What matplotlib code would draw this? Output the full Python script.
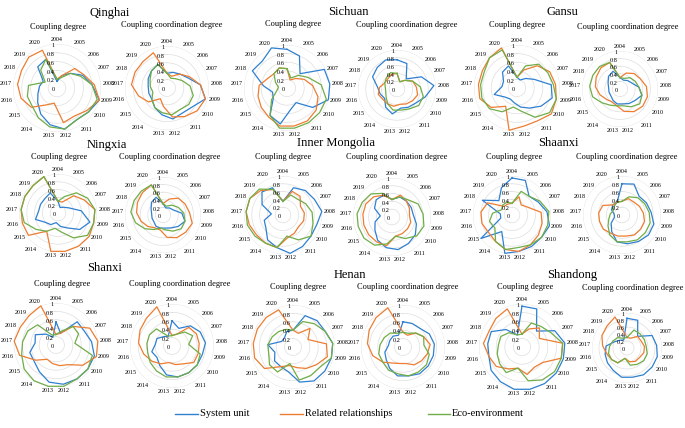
import numpy as np
import matplotlib
matplotlib.use("Agg")
import matplotlib.pyplot as plt

plt.rcParams['font.family'] = ['Liberation Serif', 'DejaVu Serif']

years = [str(y) for y in range(2004, 2021)]
series_names = ["System unit", "Related relationships", "Eco-environment"]
colors = ["#2f80d1", "#ed7d31", "#70ad47"]

# values per chart: [system unit, related relationships, eco-environment]
qinghai_cd = [
    [0.15, 0.3, 0.45, 0.65, 0.8, 1.0, 0.9, 0.85, 0.95, 0.85, 0.7, 0.55, 0.45, 0.4, 0.35, 0.65, 0.7],
    [0.2, 0.3, 0.6, 0.68, 0.85, 1.0, 0.85, 0.75, 0.8, 0.35, 0.45, 0.73, 0.85, 0.9, 0.9, 0.95, 0.92],
    [0.2, 0.25, 0.45, 0.6, 0.8, 0.95, 0.9, 0.85, 0.95, 0.9, 0.8, 0.7, 0.7, 0.65, 0.3, 0.55, 0.7],
]
qinghai_ccd = [
    [0.35, 0.4, 0.45, 0.55, 0.8, 0.95, 0.75, 0.7, 0.75, 0.65, 0.55, 0.45, 0.45, 0.45, 0.5, 0.55, 0.6],
    [0.35, 0.3, 0.45, 0.6, 0.8, 0.95, 0.9, 0.8, 0.7, 0.45, 0.3, 0.55, 0.7, 0.85, 0.85, 0.85, 0.9],
    [0.35, 0.25, 0.3, 0.4, 0.55, 0.65, 0.65, 0.6, 0.65, 0.6, 0.55, 0.45, 0.35, 0.4, 0.45, 0.55, 0.6],
]
sichuan_cd = [
    [0.9, 0.8, 0.45, 0.97, 1.0, 1.0, 0.75, 0.4, 0.5, 0.85, 0.75, 0.4, 0.35, 0.55, 0.9, 0.85, 1.0],
    [0.45, 0.2, 0.3, 0.45, 0.6, 0.75, 0.85, 0.9, 0.9, 0.9, 0.8, 0.75, 0.7, 0.65, 0.5, 0.45, 0.5],
    [0.45, 0.25, 0.4, 0.55, 0.8, 0.95, 0.95, 0.95, 0.95, 0.95, 0.75, 0.45, 0.25, 0.2, 0.3, 0.45, 0.5],
]
sichuan_ccd = [
    [0.75, 0.7, 0.35, 0.7, 0.95, 0.75, 0.6, 0.55, 0.5, 0.65, 0.55, 0.4, 0.45, 0.5, 0.7, 0.75, 0.8],
    [0.4, 0.2, 0.3, 0.45, 0.5, 0.55, 0.5, 0.45, 0.4, 0.45, 0.45, 0.45, 0.5, 0.45, 0.35, 0.35, 0.4],
    [0.4, 0.2, 0.3, 0.45, 0.6, 0.7, 0.7, 0.6, 0.55, 0.55, 0.45, 0.35, 0.3, 0.3, 0.35, 0.4, 0.45],
]
gansu_cd = [
    [0.25, 0.2, 0.3, 0.45, 0.8, 0.85, 0.7, 0.55, 0.45, 0.35, 0.3, 0.35, 0.55, 0.35, 0.35, 0.5, 0.55],
    [0.25, 0.45, 0.7, 0.85, 0.9, 0.95, 1.0, 0.9, 0.9, 1.0, 0.5, 0.75, 0.9, 0.9, 0.9, 0.95, 1.0],
    [0.25, 0.55, 0.75, 0.8, 0.85, 0.95, 0.95, 0.8, 0.55, 0.45, 0.65, 0.8, 0.85, 0.85, 0.85, 0.95, 0.95],
]
gansu_ccd = [
    [0.3, 0.25, 0.3, 0.35, 0.5, 0.6, 0.5, 0.45, 0.4, 0.4, 0.35, 0.3, 0.3, 0.3, 0.35, 0.45, 0.5],
    [0.3, 0.45, 0.55, 0.6, 0.7, 0.75, 0.75, 0.7, 0.6, 0.45, 0.4, 0.45, 0.55, 0.65, 0.7, 0.75, 0.75],
    [0.3, 0.3, 0.4, 0.45, 0.5, 0.6, 0.65, 0.55, 0.45, 0.45, 0.5, 0.6, 0.75, 0.8, 0.8, 0.8, 0.75],
]
ningxia_cd = [
    [0.3, 0.15, 0.2, 0.3, 0.6, 0.85, 0.7, 0.45, 0.35, 0.25, 0.35, 0.4, 0.6, 0.5, 0.5, 0.5, 0.55],
    [0.3, 0.3, 0.6, 0.75, 0.95, 0.95, 1.0, 1.0, 1.0, 1.0, 0.55, 0.95, 0.95, 0.95, 0.95, 0.95, 1.0],
    [0.3, 0.45, 0.7, 0.85, 0.95, 0.95, 0.95, 0.75, 0.5, 0.4, 0.55, 0.7, 0.9, 0.95, 0.95, 0.95, 1.0],
]
ningxia_ccd = [
    [0.3, 0.2, 0.25, 0.3, 0.5, 0.6, 0.5, 0.4, 0.35, 0.35, 0.35, 0.3, 0.3, 0.3, 0.35, 0.45, 0.5],
    [0.3, 0.45, 0.6, 0.65, 0.7, 0.8, 0.75, 0.7, 0.6, 0.4, 0.4, 0.5, 0.6, 0.7, 0.75, 0.8, 0.85],
    [0.3, 0.25, 0.35, 0.45, 0.55, 0.6, 0.6, 0.5, 0.4, 0.35, 0.45, 0.6, 0.75, 0.85, 0.85, 0.85, 0.85],
]
mongolia_cd = [
    [0.35, 0.75, 0.85, 0.9, 1.0, 0.9, 0.9, 0.95, 1.0, 0.85, 0.75, 0.55, 0.5, 0.3, 0.6, 0.8, 0.75],
    [0.35, 0.65, 0.65, 0.5, 0.55, 0.55, 0.5, 0.55, 0.6, 0.85, 0.85, 0.85, 0.9, 0.95, 0.95, 0.85, 0.7],
    [0.35, 0.55, 0.55, 0.65, 0.75, 0.8, 0.9, 0.75, 0.55, 0.85, 0.85, 0.9, 0.95, 0.95, 0.95, 0.9, 0.7],
]
mongolia_ccd = [
    [0.45, 0.55, 0.55, 0.55, 0.55, 0.65, 0.75, 0.8, 0.85, 0.8, 0.7, 0.55, 0.45, 0.3, 0.5, 0.6, 0.6],
    [0.45, 0.6, 0.55, 0.5, 0.45, 0.5, 0.5, 0.5, 0.5, 0.75, 0.75, 0.75, 0.75, 0.75, 0.75, 0.7, 0.6],
    [0.45, 0.55, 0.6, 0.75, 0.8, 0.85, 0.8, 0.65, 0.5, 0.7, 0.85, 0.9, 0.9, 0.9, 0.85, 0.8, 0.65],
]
shaanxi_cd = [
    [0.95, 0.95, 0.65, 0.75, 0.9, 1.0, 0.95, 0.95, 0.95, 1.0, 0.5, 1.0, 0.3, 0.3, 0.85, 0.5, 0.75],
    [0.3, 0.5, 0.35, 0.45, 0.75, 0.8, 0.85, 0.9, 0.95, 0.9, 0.8, 0.75, 0.8, 0.8, 0.7, 0.3, 0.3],
    [0.3, 0.65, 0.65, 0.8, 0.95, 0.95, 0.95, 0.9, 0.85, 0.9, 0.8, 0.55, 0.6, 0.5, 0.3, 0.35, 0.35],
]
shaanxi_ccd = [
    [0.8, 0.85, 0.65, 0.7, 0.75, 0.85, 0.85, 0.8, 0.75, 0.7, 0.5, 0.35, 0.2, 0.2, 0.3, 0.35, 0.35],
    [0.35, 0.45, 0.45, 0.5, 0.55, 0.6, 0.6, 0.6, 0.55, 0.55, 0.55, 0.6, 0.6, 0.6, 0.55, 0.35, 0.35],
    [0.35, 0.5, 0.6, 0.65, 0.7, 0.75, 0.75, 0.75, 0.7, 0.7, 0.6, 0.45, 0.35, 0.3, 0.25, 0.3, 0.35],
]
shanxi_cd = [
    [0.55, 0.3, 0.75, 0.75, 0.85, 0.95, 0.95, 0.95, 0.95, 0.9, 0.75, 0.65, 0.65, 0.5, 0.55, 0.35, 0.2],
    [0.25, 0.3, 0.6, 0.9, 1.0, 1.0, 0.8, 0.55, 0.5, 0.45, 0.4, 0.6, 0.9, 1.0, 0.95, 0.95, 1.0],
    [0.25, 0.35, 0.6, 0.6, 0.45, 0.9, 0.95, 0.95, 1.0, 1.0, 1.0, 0.95, 0.85, 0.8, 0.75, 0.65, 0.25],
]
shanxi_ccd = [
    [0.6, 0.45, 0.65, 0.75, 0.8, 0.75, 0.75, 0.75, 0.75, 0.7, 0.55, 0.45, 0.5, 0.4, 0.4, 0.3, 0.25],
    [0.25, 0.3, 0.6, 0.65, 0.65, 0.65, 0.65, 0.5, 0.45, 0.4, 0.5, 0.6, 0.7, 0.8, 0.85, 0.9, 1.0],
    [0.25, 0.3, 0.45, 0.55, 0.4, 0.7, 0.75, 0.75, 0.75, 0.75, 0.7, 0.65, 0.6, 0.6, 0.6, 0.55, 0.25],
]
henan_cd = [
    [0.4, 0.8, 0.85, 0.85, 0.95, 0.95, 0.95, 0.95, 0.85, 0.6, 0.55, 0.55, 0.45, 0.6, 0.3, 0.3, 0.4],
    [0.4, 0.35, 0.6, 0.4, 0.8, 0.85, 0.7, 0.6, 0.5, 0.45, 0.55, 0.85, 0.95, 0.95, 0.95, 0.95, 0.95],
    [0.4, 0.65, 0.75, 0.85, 0.95, 0.95, 0.8, 0.8, 0.8, 0.4, 0.7, 0.7, 0.6, 0.6, 0.55, 0.5, 0.45],
]
henan_ccd = [
    [0.6, 0.6, 0.6, 0.7, 0.75, 0.75, 0.75, 0.75, 0.7, 0.7, 0.6, 0.5, 0.45, 0.35, 0.35, 0.35, 0.3],
    [0.35, 0.3, 0.45, 0.55, 0.65, 0.6, 0.55, 0.5, 0.4, 0.4, 0.45, 0.6, 0.75, 0.85, 0.9, 0.95, 1.0],
    [0.35, 0.35, 0.45, 0.55, 0.5, 0.65, 0.7, 0.7, 0.7, 0.65, 0.65, 0.6, 0.6, 0.55, 0.5, 0.45, 0.35],
]
shandong_cd = [
    [0.95, 0.95, 0.5, 0.85, 1.0, 1.0, 1.0, 1.0, 1.0, 1.0, 0.95, 0.9, 0.8, 0.8, 0.8, 0.55, 0.3],
    [0.3, 0.45, 0.6, 0.45, 0.95, 0.95, 0.6, 0.55, 0.65, 0.5, 0.6, 0.75, 0.8, 0.9, 0.85, 0.9, 0.95],
    [0.3, 0.6, 0.65, 0.75, 0.95, 0.95, 0.95, 0.9, 0.8, 0.5, 0.7, 0.65, 0.6, 0.55, 0.55, 0.45, 0.3],
]
shandong_ccd = [
    [0.85, 0.85, 0.45, 0.8, 0.85, 0.9, 0.9, 0.9, 0.85, 0.85, 0.75, 0.7, 0.65, 0.6, 0.4, 0.3, 0.25],
    [0.3, 0.3, 0.45, 0.45, 0.5, 0.5, 0.45, 0.45, 0.4, 0.3, 0.5, 0.55, 0.6, 0.7, 0.8, 0.85, 0.95],
    [0.3, 0.55, 0.55, 0.55, 0.55, 0.6, 0.6, 0.55, 0.5, 0.3, 0.5, 0.55, 0.55, 0.5, 0.45, 0.4, 0.3],
]

W, H = 685, 428
fig = plt.figure(figsize=(W / 100, H / 100), dpi=100)

# (data, center x px, center y px, radius px)
charts = [
    (qinghai_cd, 57, 88, 44), (qinghai_ccd, 167, 88, 42),
    (sichuan_cd, 287, 88, 43), (sichuan_ccd, 397, 89, 39),
    (gansu_cd, 517, 88, 43), (gansu_ccd, 620, 89, 38),
    (ningxia_cd, 58, 213, 39), (ningxia_ccd, 163, 215, 38),
    (mongolia_cd, 283, 215, 39), (mongolia_ccd, 392, 217, 39),
    (shaanxi_cd, 512, 215, 39), (shaanxi_ccd, 622, 215, 39),
    (shanxi_cd, 56, 345, 42), (shanxi_ccd, 172, 346, 42),
    (henan_cd, 293, 347, 42), (henan_ccd, 403, 347, 42),
    (shandong_cd, 522, 347, 43), (shandong_ccd, 627, 348, 35),
]

provinces = [("Qinghai", 110, 13), ("Sichuan", 348, 12), ("Gansu", 562, 12),
             ("Ningxia", 107, 145), ("Inner Mongolia", 336, 143), ("Shaanxi", 558, 143),
             ("Shanxi", 105, 268), ("Henan", 350, 275), ("Shandong", 572, 275)]

subtitles = [(58, 27), (172, 25), (293, 24), (407, 25), (517, 25), (628, 27),
             (59, 157), (170, 157), (283, 157), (397, 157), (514, 157), (627, 157),
             (62, 284), (180, 284), (298, 287), (408, 287), (525, 287), (633, 288)]

n = len(years)
theta = np.linspace(0, 2 * np.pi, n, endpoint=False)
theta_closed = np.append(theta, theta[0])

for i, (data, cx, cy, r) in enumerate(charts):
    ax = fig.add_axes([(cx - r) / W, 1 - (cy + r) / H, 2 * r / W, 2 * r / H], projection='polar')
    ax.set_theta_zero_location('N')
    ax.set_theta_direction(-1)
    ax.set_ylim(0, 1)
    ax.set_xticks([])
    ax.set_yticks([])
    ax.grid(False)
    ax.spines['polar'].set_visible(False)
    ax.patch.set_alpha(0)
    # grid rings
    ring = np.linspace(0, 2 * np.pi, 120)
    for lv in [0.2, 0.4, 0.6, 0.8, 1.0]:
        ax.plot(ring, [lv] * len(ring), color='#dedede', lw=0.5, zorder=1)
    for lv, lab in zip([0, 0.2, 0.4, 0.6, 0.8, 1.0], ["0", "0.2", "0.4", "0.6", "0.8", "1"]):
        ax.annotate(lab, xy=(0, lv), xytext=(-1.5, -1.2), textcoords='offset points',
                    ha='right', va='center', fontsize=4.5, zorder=4, annotation_clip=False)
    for t, yr in zip(theta, years):
        s, c = np.sin(t), np.cos(t)
        ha = 'center' if abs(s) < 0.2 else ('left' if s > 0 else 'right')
        va = 'bottom' if c > 0.8 else ('top' if c < -0.8 else 'center')
        ax.text(t, 1.04, yr, ha=ha, va=va, fontsize=4.3, clip_on=False)
    for vals, col in zip(data, colors):
        ax.plot(theta_closed, vals + [vals[0]], color=col, lw=0.9, zorder=3, clip_on=False)
    sx, sy = subtitles[i]
    fig.text(sx / W, 1 - sy / H, "Coupling degree" if i % 2 == 0 else "Coupling coordination degree",
             ha='center', va='center', fontsize=6)

for name, px, py in provinces:
    fig.text(px / W, 1 - py / H, name, ha='center', va='center', fontsize=9)

# legend
legend_items = [(175, 198, 200), (280, 303, 305), (428, 450, 452)]
for (x0, x1, tx), name, col in zip(legend_items, series_names, colors):
    fig.add_artist(plt.Line2D([x0 / W, x1 / W], [1 - 414 / H] * 2, color=col, lw=1.0))
    fig.text(tx / W, 1 - 414 / H, name, ha='left', va='center', fontsize=7.5)

fig.savefig("out.png", dpi=100)
